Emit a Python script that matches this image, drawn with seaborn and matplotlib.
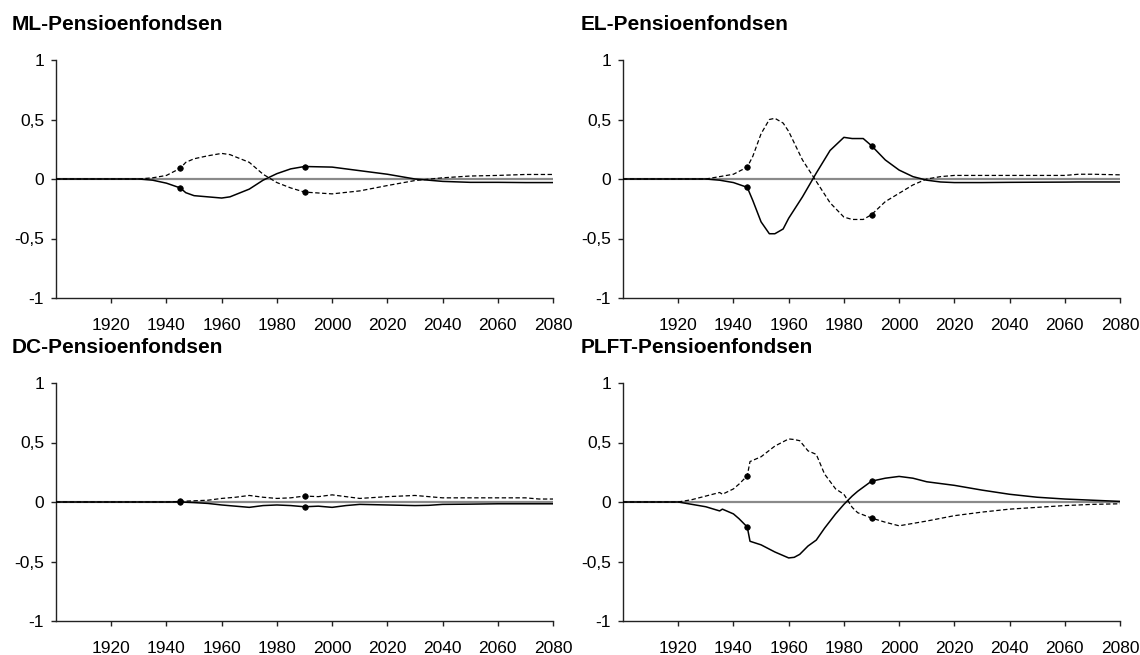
import matplotlib
matplotlib.use("Agg")
import matplotlib.pyplot as plt
import seaborn as sns
import pandas as pd

sns.set_theme(style="white")
plt.rcParams['font.family'] = ['Liberation Sans', 'DejaVu Sans']

# ---------------- data ----------------
titles = ["ML-Pensioenfondsen", "EL-Pensioenfondsen", "DC-Pensioenfondsen", "PLFT-Pensioenfondsen"]
marker_years = [1945, 1990]
x_ticks = [1920, 1940, 1960, 1980, 2000, 2020, 2040, 2060, 2080]
y_ticks = [-1, -0.5, 0, 0.5, 1]
y_ticklabels = ["-1", "-0,5", "0", "0,5", "1"]

ml_years = [1900, 1910, 1920, 1930, 1935, 1940, 1945, 1947, 1950, 1955, 1960, 1963, 1970, 1975, 1980,
            1985, 1990, 2000, 2010, 2020, 2030, 2040, 2050, 2060, 2070, 2080]
ml_solid = [0, 0, 0, 0, -0.01, -0.035, -0.075, -0.115, -0.14, -0.15, -0.16, -0.15, -0.085, -0.01, 0.045,
            0.085, 0.105, 0.1, 0.07, 0.04, 0.0, -0.02, -0.028, -0.028, -0.03, -0.03]
ml_dashed = [0, 0, 0, 0, 0.01, 0.03, 0.09, 0.14, 0.17, 0.195, 0.215, 0.205, 0.14, 0.04, -0.03,
             -0.075, -0.11, -0.125, -0.1, -0.055, -0.013, 0.01, 0.025, 0.03, 0.038, 0.038]

el_years = [1900, 1910, 1920, 1930, 1935, 1940, 1945, 1947, 1950, 1953, 1955, 1958, 1960, 1965, 1970,
            1975, 1980, 1983, 1987, 1990, 1995, 2000, 2005, 2010, 2015, 2020, 2030, 2040, 2050, 2060,
            2065, 2070, 2080]
el_solid = [0, 0, 0, 0, -0.01, -0.03, -0.07, -0.18, -0.36, -0.46, -0.46, -0.42, -0.33, -0.15, 0.05,
            0.24, 0.35, 0.34, 0.34, 0.28, 0.16, 0.075, 0.02, -0.01, -0.025, -0.03, -0.03, -0.028, -0.027, -0.026,
            -0.025, -0.025, -0.025]
el_dashed = [0, 0, 0, 0, 0.02, 0.04, 0.1, 0.19, 0.38, 0.5, 0.51, 0.47, 0.4, 0.16, -0.02,
             -0.2, -0.32, -0.34, -0.34, -0.3, -0.19, -0.12, -0.05, 0.0, 0.02, 0.03, 0.03, 0.03, 0.03, 0.03,
             0.04, 0.04, 0.035]

dc_years = [1900, 1920, 1940, 1945, 1950, 1955, 1960, 1965, 1970, 1975, 1980, 1985, 1990, 1995, 2000,
            2005, 2010, 2020, 2030, 2035, 2040, 2050, 2060, 2070, 2075, 2080]
dc_solid = [0, 0, 0, 0.0, -0.005, -0.012, -0.025, -0.035, -0.045, -0.03, -0.025, -0.03, -0.04, -0.035, -0.045,
            -0.03, -0.02, -0.025, -0.03, -0.028, -0.02, -0.018, -0.015, -0.015, -0.015, -0.015]
dc_dashed = [0, 0, 0, 0.005, 0.01, 0.015, 0.03, 0.04, 0.055, 0.04, 0.03, 0.035, 0.05, 0.045, 0.06,
             0.045, 0.03, 0.045, 0.055, 0.045, 0.035, 0.035, 0.035, 0.035, 0.025, 0.025]

plft_years = [1900, 1910, 1920, 1925, 1930, 1935, 1936, 1940, 1942, 1945, 1946, 1950, 1955, 1960, 1962,
              1964, 1967, 1970, 1973, 1977, 1980, 1983, 1985, 1990, 1995, 2000, 2005, 2010, 2020, 2030,
              2040, 2050, 2060, 2070, 2080]
plft_solid = [0, 0, 0, -0.02, -0.04, -0.075, -0.06, -0.1, -0.14, -0.21, -0.33, -0.36, -0.42, -0.47, -0.465,
              -0.44, -0.37, -0.32, -0.22, -0.1, -0.02, 0.05, 0.09, 0.175, 0.2, 0.215, 0.2, 0.17, 0.14, 0.1,
              0.065, 0.04, 0.025, 0.015, 0.005]
plft_dashed = [0, 0, 0, 0.02, 0.05, 0.08, 0.065, 0.11, 0.15, 0.22, 0.34, 0.38, 0.47, 0.53, 0.525,
               0.515, 0.43, 0.4, 0.235, 0.11, 0.065, -0.045, -0.09, -0.135, -0.17, -0.2, -0.18, -0.16, -0.115, -0.085,
               -0.06, -0.045, -0.03, -0.02, -0.015]

panels = [
    (titles[0], ml_years, ml_solid, ml_dashed),
    (titles[1], el_years, el_solid, el_dashed),
    (titles[2], dc_years, dc_solid, dc_dashed),
    (titles[3], plft_years, plft_solid, plft_dashed),
]

# ---------------- figure ----------------
fig = plt.figure(figsize=(11.4, 6.55), dpi=100)
W, H = 1140, 655
ax_w = (553 - 56) / W
ax_h = (298 - 60) / H
lefts = [56 / W, 623 / W]
bottoms = [1 - 298 / H, 1 - 621 / H]
title_tops = [1 - 15 / H, 1 - 338 / H]
title_x = [12 / W, 581 / W]

for i, (title, years, solid, dashed) in enumerate(panels):
    r, c = divmod(i, 2)
    ax = fig.add_axes([lefts[c], bottoms[r], ax_w, ax_h])
    df = pd.DataFrame({"year": years, "solid": solid, "dashed": dashed})

    ax.axhline(0, color="#8a8a8a", lw=1.6, zorder=1)
    sns.lineplot(data=df, x="year", y="dashed", ax=ax, color="black", lw=0.9,
                 linestyle=(0, (3.5, 2)), zorder=3)
    sns.lineplot(data=df, x="year", y="solid", ax=ax, color="black", lw=1.1, zorder=3)
    mk = df[df["year"].isin(marker_years)]
    for col in ["solid", "dashed"]:
        sns.scatterplot(data=mk, x="year", y=col, ax=ax, color="black", s=16,
                        edgecolor="black", linewidth=0.5, zorder=4)

    ax.set_xlim(1900, 2080)
    ax.set_ylim(-1, 1)
    ax.set_xticks(x_ticks)
    ax.set_xticklabels([str(t) for t in x_ticks])
    ax.set_yticks(y_ticks)
    ax.set_yticklabels(y_ticklabels)
    ax.set_xlabel("")
    ax.set_ylabel("")
    for s in ["top", "right"]:
        ax.spines[s].set_visible(False)
    for s in ["left", "bottom"]:
        ax.spines[s].set_color("#222222")
        ax.spines[s].set_linewidth(1.0)
    ax.tick_params(axis="x", direction="out", length=3.6, width=1.0, color="#222222",
                   pad=11, labelsize=12.5, labelcolor="black", bottom=True)
    ax.tick_params(axis="y", direction="out", length=3.6, width=1.0, color="#222222",
                   pad=5, labelsize=12.5, labelcolor="black", left=True)
    ax.grid(False)
    fig.text(title_x[c], title_tops[r], title, fontsize=15, fontweight="bold",
             ha="left", va="top", color="black")

fig.savefig("out.png", dpi=100)
